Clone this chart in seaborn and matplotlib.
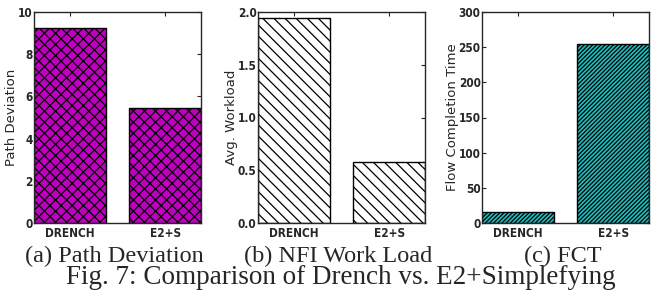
import matplotlib
matplotlib.use("Agg")
import pandas as pd
import seaborn as sns
import matplotlib.pyplot as plt

schemes = ["DRENCH", "E2+S"]
path_deviation = [9.22, 5.43]
avg_workload = [1.94, 0.58]
fct = [16, 254]

panel_titles = ["(a) Path Deviation", "(b) NFI Work Load", "(c) FCT"]
ylabels = ["Path Deviation", "Avg. Workload", "Flow Completion Time"]
ylims = [10, 2.0, 300]
yticks = [[0, 2, 4, 6, 8, 10],
          [0.0, 0.5, 1.0, 1.5, 2.0],
          [0, 50, 100, 150, 200, 250, 300]]
ytick_labels = [["0", "2", "4", "6", "8", "10"],
                ["0.0", "0.5", "1.0", "1.5", "2.0"],
                ["0", "50", "100", "150", "200", "250", "300"]]
colors = ["#c000c0", "white", "#1fbfbf"]
hatches = ["xxx", "\\\\\\", "////////"]
caption = "Fig. 7: Comparison of Drench vs. E2+Simplefying"


def main():
    sns.set_style("ticks")
    plt.rcParams["hatch.linewidth"] = 0.9

    fig = plt.figure(figsize=(6.55, 2.91), dpi=100)
    lefts = [34, 258, 482]
    width, top, bottom = 167, 12, 223
    W, H = 655, 291

    for i, vals in enumerate([path_deviation, avg_workload, fct]):
        ax = fig.add_axes([lefts[i] / W, 1 - bottom / H, width / W, (bottom - top) / H])
        df = pd.DataFrame({"scheme": schemes, "value": vals})
        sns.barplot(data=df, x="scheme", y="value", ax=ax, width=0.75,
                    color=colors[i], edgecolor="black", linewidth=1.0,
                    hatch=hatches[i], saturation=1)
        for p in ax.patches:
            p.set_facecolor(colors[i])
            p.set_hatch(hatches[i])
        ax.set_xlim(-0.375, 1.375)
        ax.set_ylim(0, ylims[i])
        ax.set_yticks(yticks[i])
        ax.set_yticklabels(ytick_labels[i], family="DejaVu Sans", stretch="condensed",
                           fontweight="bold", fontsize=8.5)
        ax.set_xticks([0, 1])
        ax.set_xticklabels(schemes, family="DejaVu Sans", stretch="condensed",
                           fontweight="bold", fontsize=8.5)
        ax.tick_params(direction="in", top=True, right=True, length=3, width=0.8, pad=1)
        ax.tick_params(axis="x", pad=3)
        ax.set_xlabel("")
        ax.set_ylabel(ylabels[i], fontsize=9.5, labelpad=0)
        for s in ax.spines.values():
            s.set_linewidth(1.0)
            s.set_visible(True)
        fig.text((lefts[i] + width / 2 - 3) / W, 1 - 262 / H, panel_titles[i],
                 ha="center", va="baseline", family="Liberation Serif", fontsize=17.5)

    fig.text(341 / W, 1 - 284 / H, caption, ha="center", va="baseline",
             family="Liberation Serif", fontsize=19.5)

    fig.savefig("out.png", dpi=100)


if __name__ == "__main__":
    main()
